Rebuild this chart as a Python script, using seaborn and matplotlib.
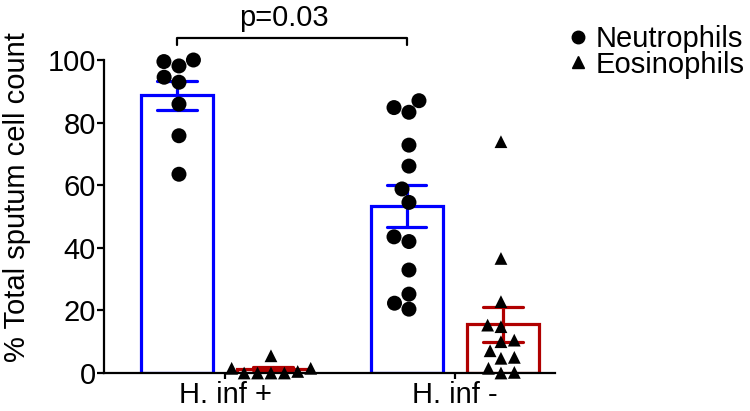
import numpy as np
import pandas as pd
import matplotlib
matplotlib.use("Agg")
import matplotlib.pyplot as plt
import seaborn as sns
from matplotlib.lines import Line2D

# ---------------- data ----------------
groups = ["H. inf +", "H. inf -"]
cell_types = ["Neutrophils", "Eosinophils"]

neut_hinf_pos = [99.5, 98.1, 100.0, 94.5, 92.9, 85.9, 75.8, 63.5]
eos_hinf_pos = [0.0, 1.5, 0.0, 1.5, 5.5, 0.0, 0.5, 0.0]
neut_hinf_neg = [87.0, 83.3, 84.8, 72.8, 66.1, 58.8, 54.5, 43.5, 42.0, 32.9, 25.2, 20.4, 22.3]
eos_hinf_neg = [73.9, 36.6, 22.8, 15.3, 10.5, 5.0, 0.0, 14.8, 10.0, 4.7, 0.2, 7.1, 1.5]

y_ticks = [0, 20, 40, 60, 80, 100]
y_label = "% Total sputum cell count"
p_label = "p=0.03"

rows = []
for g, c, vals in [(groups[0], cell_types[0], neut_hinf_pos),
                   (groups[0], cell_types[1], eos_hinf_pos),
                   (groups[1], cell_types[0], neut_hinf_neg),
                   (groups[1], cell_types[1], eos_hinf_neg)]:
    for v in vals:
        rows.append({"group": g, "cell": c, "value": v})
df = pd.DataFrame(rows)

# ---------------- style ----------------
sns.set_style("ticks")
plt.rcParams["font.family"] = ["Liberation Sans", "DejaVu Sans"]
plt.rcParams["text.color"] = "black"
plt.rcParams["axes.labelcolor"] = "black"
plt.rcParams["xtick.color"] = "black"
plt.rcParams["ytick.color"] = "black"

bar_colors = {"Neutrophils": "#0000FF", "Eosinophils": "#B00000"}
FS = 21

fig = plt.figure(figsize=(7.5, 4.11), dpi=100)
ax = fig.add_axes([104 / 750, 1 - 373 / 411, (555 - 104) / 750, 373 / 411])

BAR_W = 0.835
sns.barplot(data=df, x="group", y="value", hue="cell", order=groups,
            hue_order=cell_types, palette=bar_colors, errorbar="se",
            capsize=0.34, width=BAR_W, gap=0.25, fill=False,
            linewidth=2.3, err_kws={"linewidth": 2.3}, legend=False, ax=ax)

for cell, marker, size in [("Neutrophils", "o", 10.8), ("Eosinophils", "^", 9.2)]:
    sub = df[df["cell"] == cell]
    sns.swarmplot(data=sub, x="group", y="value", hue="cell", order=groups,
                  hue_order=cell_types, dodge=True,
                  palette={c: "black" for c in cell_types},
                  marker=marker, size=size, legend=False, ax=ax,
                  zorder=4, clip_on=False, warn_thresh=1.0)

ax.set_xlim(-0.526, 1.435)
ax.set_ylim(0, 119.17)
ax.set_yticks(y_ticks)
ax.set_xlabel("")
ax.set_ylabel(y_label, fontsize=FS, color="black")
ax.yaxis.set_label_coords((31 - 104) / 451, 1 - 197 / 373)

for s in ["top", "right"]:
    ax.spines[s].set_visible(False)
ax.spines["left"].set_bounds(0, 100)
for s in ["left", "bottom"]:
    ax.spines[s].set_linewidth(1.6)
    ax.spines[s].set_color("black")

ax.tick_params(axis="y", length=5, width=1.6, labelsize=FS, pad=1,
               colors="black")
ax.tick_params(axis="x", length=4, width=1.6, labelsize=FS, pad=2,
               colors="black")

# significance bracket
off = BAR_W / 4
x0, x1 = 0 - off, 1 - off
ax.plot([x0, x0, x1, x1], [104.8, 107.1, 107.1, 104.8], color="black",
        lw=1.6, clip_on=False)
ax.text((x0 + x1) / 2 - 0.037, 110.9, p_label, ha="center", va="baseline",
        fontsize=FS, color="black")

handles = [Line2D([], [], marker="o", ls="none", color="black", markersize=9),
           Line2D([], [], marker="^", ls="none", color="black", markersize=9)]
fig.legend(handles=handles, labels=cell_types, loc="upper left",
           bbox_to_anchor=(569 / 750, 1 - 25 / 411), frameon=False,
           fontsize=FS, handlelength=0.6, handletextpad=0.3,
           labelspacing=-0.08, borderpad=0, borderaxespad=0,
           labelcolor="black")

fig.savefig("out.png", dpi=100)
